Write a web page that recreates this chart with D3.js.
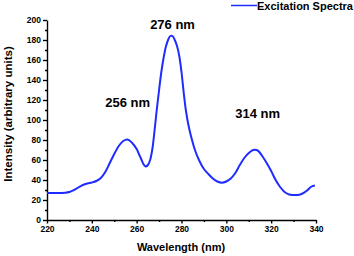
<!DOCTYPE html>
<html>
<head>
<meta charset="utf-8">
<script src="https://cdn.jsdelivr.net/npm/d3@7"></script>
<style>
body { margin: 0; background: #fff; }
svg { display: block; font-family: "Liberation Sans", Arial, sans-serif; }
.axis path, .axis line { stroke: #000; stroke-width: 1.4px; }
.axis text { font-size: 8.5px; font-weight: bold; fill: #000; }
</style>
</head>
<body>
<div id="chart"></div>
<script>
// excitation spectrum
const wavelength = [220, 224, 228, 230, 232, 234, 236, 238, 240, 242, 244, 246, 248, 250, 252, 254, 256, 258, 260, 261, 262, 263, 264, 265, 266, 267, 268, 269, 270, 271, 272, 273, 274, 275, 276, 277, 278, 279, 280, 281, 282, 283, 284, 286, 288, 290, 292, 294, 296, 298, 300, 302, 304, 306, 308, 310, 312, 314, 316, 318, 320, 322, 324, 326, 328, 330, 332, 334, 336, 338, 339.5];
const intensity  = [27, 27, 27.3, 28, 30, 32.5, 35, 36.5, 37.5, 39, 42, 48, 57, 66, 74, 79, 80.5, 77, 71, 66, 61, 56, 53.5, 55, 60, 71, 90, 111, 130, 148, 162, 173, 180, 184, 184, 180, 174, 164, 148, 127, 109, 96, 86, 70, 59, 51, 46, 41.5, 38.5, 37.3, 38.5, 41.5, 47, 55, 62, 67, 70, 69.5, 64, 57, 49, 40, 33, 28, 25.5, 25, 25, 26.5, 29.5, 33.5, 34.5];

const xMajor = [220, 240, 260, 280, 300, 320, 340];
const xMinor = [230, 250, 270, 290, 310, 330];
const yMajor = [0, 20, 40, 60, 80, 100, 120, 140, 160, 180, 200];
const yMinor = [10, 30, 50, 70, 90, 110, 130, 150, 170, 190];

const peakLabels = ['256 nm', '276 nm', '314 nm'];
const peakX = [256, 276, 314];
const peakY = [113, 191, 102];

const seriesName = 'Excitation Spectra';

const width = 354, height = 256;
const lineColor = '#1f2cff';

const svg = d3.select('#chart').append('svg')
	.attr('width', width)
	.attr('height', height);

const x = d3.scaleLinear().domain([220, 340]).range([47, 316]);
const y = d3.scaleLinear().domain([0, 200]).range([220, 20]);

// minor ticks first, majors drawn on top
svg.append('g').attr('class', 'axis')
	.attr('transform', 'translate(0,' + y(0) + ')')
	.call(d3.axisBottom(x).tickValues(xMinor).tickSize(2).tickFormat(''))
	.select('.domain').remove();
svg.append('g').attr('class', 'axis')
	.attr('transform', 'translate(' + x(220) + ',0)')
	.call(d3.axisLeft(y).tickValues(yMinor).tickSize(2).tickFormat(''))
	.select('.domain').remove();

svg.append('g').attr('class', 'axis')
	.attr('transform', 'translate(0,' + y(0) + ')')
	.call(d3.axisBottom(x).tickValues(xMajor).tickSize(3.5).tickSizeOuter(0).tickPadding(2));
svg.append('g').attr('class', 'axis')
	.attr('transform', 'translate(' + x(220) + ',0)')
	.call(d3.axisLeft(y).tickValues(yMajor).tickSize(4).tickSizeOuter(0).tickPadding(2));

// axis titles
svg.append('text')
	.attr('x', 181)
	.attr('y', 251)
	.attr('text-anchor', 'middle')
	.attr('font-size', 11)
	.attr('font-weight', 'bold')
	.text('Wavelength (nm)');
svg.append('text')
	.attr('transform', 'translate(12,114) rotate(-90)')
	.attr('text-anchor', 'middle')
	.attr('font-size', 11.5)
	.attr('font-weight', 'bold')
	.text('Intensity (arbitrary units)');

const data = wavelength.map((w, i) => ({w: w, v: intensity[i]}));

svg.append('path')
	.datum(data)
	.attr('fill', 'none')
	.attr('stroke', lineColor)
	.attr('stroke-width', 2)
	.attr('d', d3.line()
		.x(d => x(d.w))
		.y(d => y(d.v))
		.curve(d3.curveCatmullRom.alpha(0.5)));

// peak annotations
svg.selectAll('.peak')
	.data(peakLabels)
	.enter().append('text')
	.attr('class', 'peak')
	.attr('x', (d, i) => x(peakX[i]))
	.attr('y', (d, i) => y(peakY[i]))
	.attr('text-anchor', 'middle')
	.attr('font-size', 13)
	.attr('font-weight', 'bold')
	.text(d => d);

// legend
svg.append('line')
	.attr('x1', 231).attr('x2', 257)
	.attr('y1', 5.5).attr('y2', 5.5)
	.attr('stroke', lineColor)
	.attr('stroke-width', 1.5);
svg.append('text')
	.attr('x', 257)
	.attr('y', 9.5)
	.attr('font-size', 11)
	.attr('font-weight', 'bold')
	.text(seriesName);
</script>
</body>
</html>
